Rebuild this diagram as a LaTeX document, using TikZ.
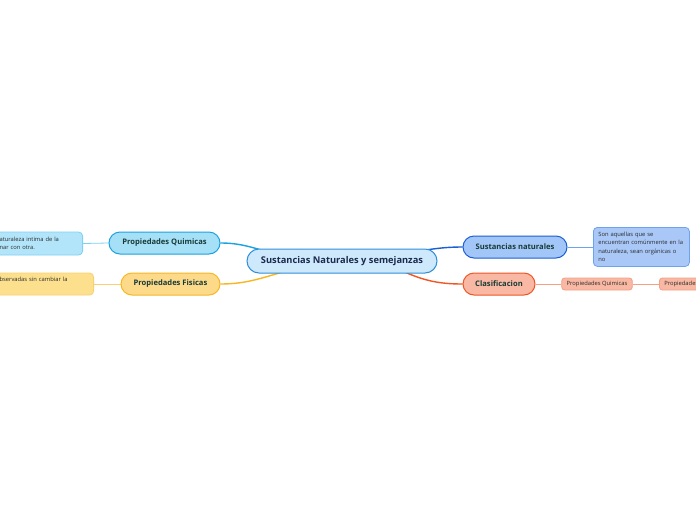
\documentclass[tikz,border=0pt]{standalone}
\usepackage{fontspec}
\setmainfont{Open Sans}
\usetikzlibrary{backgrounds,shapes.misc}
\definecolor{cfill}{HTML}{CDE9FB}
\definecolor{cbord}{HTML}{2F8FD8}
\definecolor{ctext}{HTML}{1B2A4E}
\definecolor{ltext}{HTML}{173A36}
\definecolor{stext}{HTML}{2A2A2A}
\definecolor{pqfill}{HTML}{A6E0F7}
\definecolor{pqbord}{HTML}{1AA3E0}
\definecolor{pqdfill}{HTML}{B3E5FA}
\definecolor{pqdbord}{HTML}{7FD0F3}
\definecolor{pffill}{HTML}{FDD98A}
\definecolor{pfbord}{HTML}{F7B723}
\definecolor{pfdfill}{HTML}{FDE08E}
\definecolor{pfdbord}{HTML}{FBD070}
\definecolor{snfill}{HTML}{A3C6F8}
\definecolor{snbord}{HTML}{1A5FD3}
\definecolor{sndfill}{HTML}{A9C8F8}
\definecolor{sndbord}{HTML}{6DA2EE}
\definecolor{clfill}{HTML}{F8B8A3}
\definecolor{clbord}{HTML}{F05524}
\definecolor{clsbord}{HTML}{F3A085}
\tikzset{
  mainnode/.style={draw=cbord, fill=cfill, line width=1pt, rounded corners=12pt,
    minimum width=190pt, minimum height=24pt, inner sep=0pt, text=ctext,
    font=\fontsize{9.3}{11}\selectfont\bfseries},
  topicnode/.style={line width=1pt, rounded corners=11pt, minimum height=22pt,
    inner sep=0pt, text=ltext, font=\fontsize{7.6}{9}\selectfont\bfseries},
  descbox/.style={line width=0.8pt, rounded corners=4pt, inner xsep=5pt, inner ysep=3pt,
    align=left, text=stext, font=\fontsize{5.8}{8.3}\selectfont},
  smallbox/.style={draw=clsbord, fill=clfill, line width=0.8pt, rounded corners=3pt,
    minimum height=12pt, inner xsep=5pt, inner ysep=0pt, text=stext,
    font=\fontsize{5.8}{7}\selectfont},
  bigline/.style={line width=1.4pt},
  thinline/.style={line width=0.8pt}
}
\begin{document}
\begin{tikzpicture}[x=1pt,y=1pt]
\useasboundingbox (0,-520) rectangle (696,0);
\clip (0,-520) rectangle (696,0);
% nodes
\node[mainnode] (c) at (342,-261) {Sustancias Naturales y semejanzas};
\node[topicnode, draw=pqbord, fill=pqfill, minimum width=111pt] (pq) at (164.5,-243) {Propiedades Quimicas};
\node[topicnode, draw=pfbord, fill=pffill, minimum width=99pt] (pf) at (170.5,-284) {Propiedades Fisicas};
\node[topicnode, draw=snbord, fill=snfill, minimum width=104pt] (sn) at (515,-247) {Sustancias naturales};
\node[topicnode, draw=clbord, fill=clfill, minimum width=72pt] (cl) at (499,-284) {Clasificacion};
\node[descbox, draw=pqdbord, fill=pqdfill, text width=78pt, minimum height=23pt, anchor=east] (pqd) at (83,-243.5) {aturaleza intima de la\\nar con otra.};
\node[descbox, draw=pfdbord, fill=pfdfill, text width=89pt, minimum height=22pt, anchor=east, text depth=9pt] (pfd) at (94,-284) {bservadas sin cambiar la};
\node[descbox, draw=sndbord, fill=sndfill, text width=86pt, minimum height=39pt, anchor=north west] (snd) at (593,-227) {Son aquellas que se\\encuentran comúnmente en la\\naturaleza, sean orgánicas o\\no};
\node[smallbox, minimum width=70pt] (clq) at (597,-284) {Propiedades Quimicas};
\node[smallbox, anchor=west] (clp) at (659,-284) {Propiedades};
% connectors
\coordinate (cq) at (272,-253);
\coordinate (cf) at (290,-270);
\coordinate (cs) at (412,-252);
\coordinate (ck) at (398,-269);
\begin{scope}[on background layer]
\fill[white] (0,-520) rectangle (696,0);
\draw[bigline, draw=pqbord] (pq.east) to[out=0,in=165] (cq);
\draw[bigline, draw=pfbord] (pf.east) to[out=0,in=195] (cf);
\draw[bigline, draw=snbord] (cs) to[out=8,in=180] (sn.west);
\draw[bigline, draw=clbord] (ck) to[out=-25,in=180] (cl.west);
\draw[thinline, draw=pqdbord] (pq.west) -- (pqd.east);
\draw[thinline, draw=pfdbord] (pf.west) -- (pfd.east |- pf.west);
\draw[thinline, draw=sndbord] (sn.east) -- (snd.west |- sn.east);
\draw[thinline, draw=clsbord] (cl.east) -- (clq.west);
\draw[thinline, draw=clsbord] (clq.east) -- (clp.west);
\end{scope}
\end{tikzpicture}
\end{document}
